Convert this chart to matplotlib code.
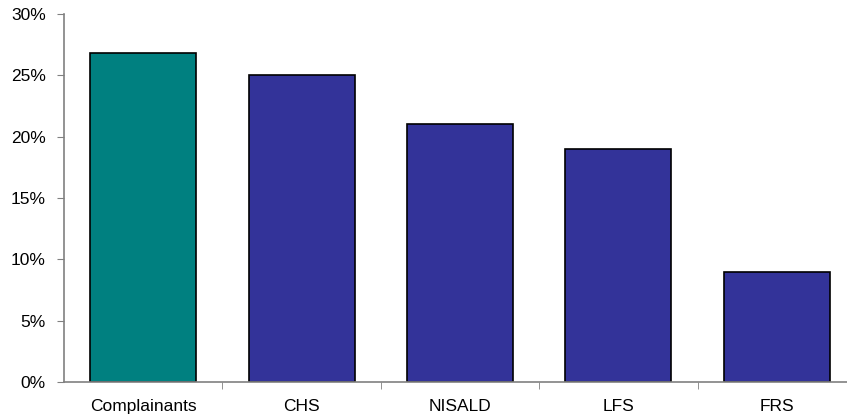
import matplotlib
matplotlib.use("Agg")
import matplotlib.pyplot as plt
from matplotlib.ticker import FuncFormatter, FixedLocator

plt.rcParams['font.family'] = ['Liberation Sans', 'DejaVu Sans']

categories = ["Complainants", "CHS", "NISALD", "LFS", "FRS"]
shares = [26.8, 25, 21, 19, 9]   # percent
bar_colors = ["#008080", "#333399", "#333399", "#333399", "#333399"]

fig = plt.figure(figsize=(8.47, 4.18), dpi=100)
ax = fig.add_axes([64 / 847, 36 / 418, 792 / 847, 368 / 418])

x = range(len(categories))
ax.bar(x, shares, width=0.67, color=bar_colors, edgecolor="black", linewidth=1.2)

ax.set_xlim(-0.5, len(categories) - 0.5)
ax.set_ylim(0, 30)
ax.set_yticks(range(0, 31, 5))
ax.yaxis.set_major_formatter(FuncFormatter(lambda v, p: f"{v:.0f}%"))

# category labels centred, tick marks between categories
ax.set_xticks(list(x))
ax.set_xticklabels(categories)
ax.xaxis.set_minor_locator(FixedLocator([i + 0.5 for i in range(len(categories) - 1)]))
ax.tick_params(axis="x", which="major", length=0, pad=12.5, labelsize=12.5)
ax.tick_params(axis="x", which="minor", length=5, color="#808080", direction="out")
ax.tick_params(axis="y", length=5, color="#808080", direction="out", labelsize=12.5, pad=8)

for side in ["top", "right"]:
    ax.spines[side].set_visible(False)
for side in ["left", "bottom"]:
    ax.spines[side].set_color("#808080")
    ax.spines[side].set_linewidth(1.2)

fig.savefig("out.png", dpi=100)
